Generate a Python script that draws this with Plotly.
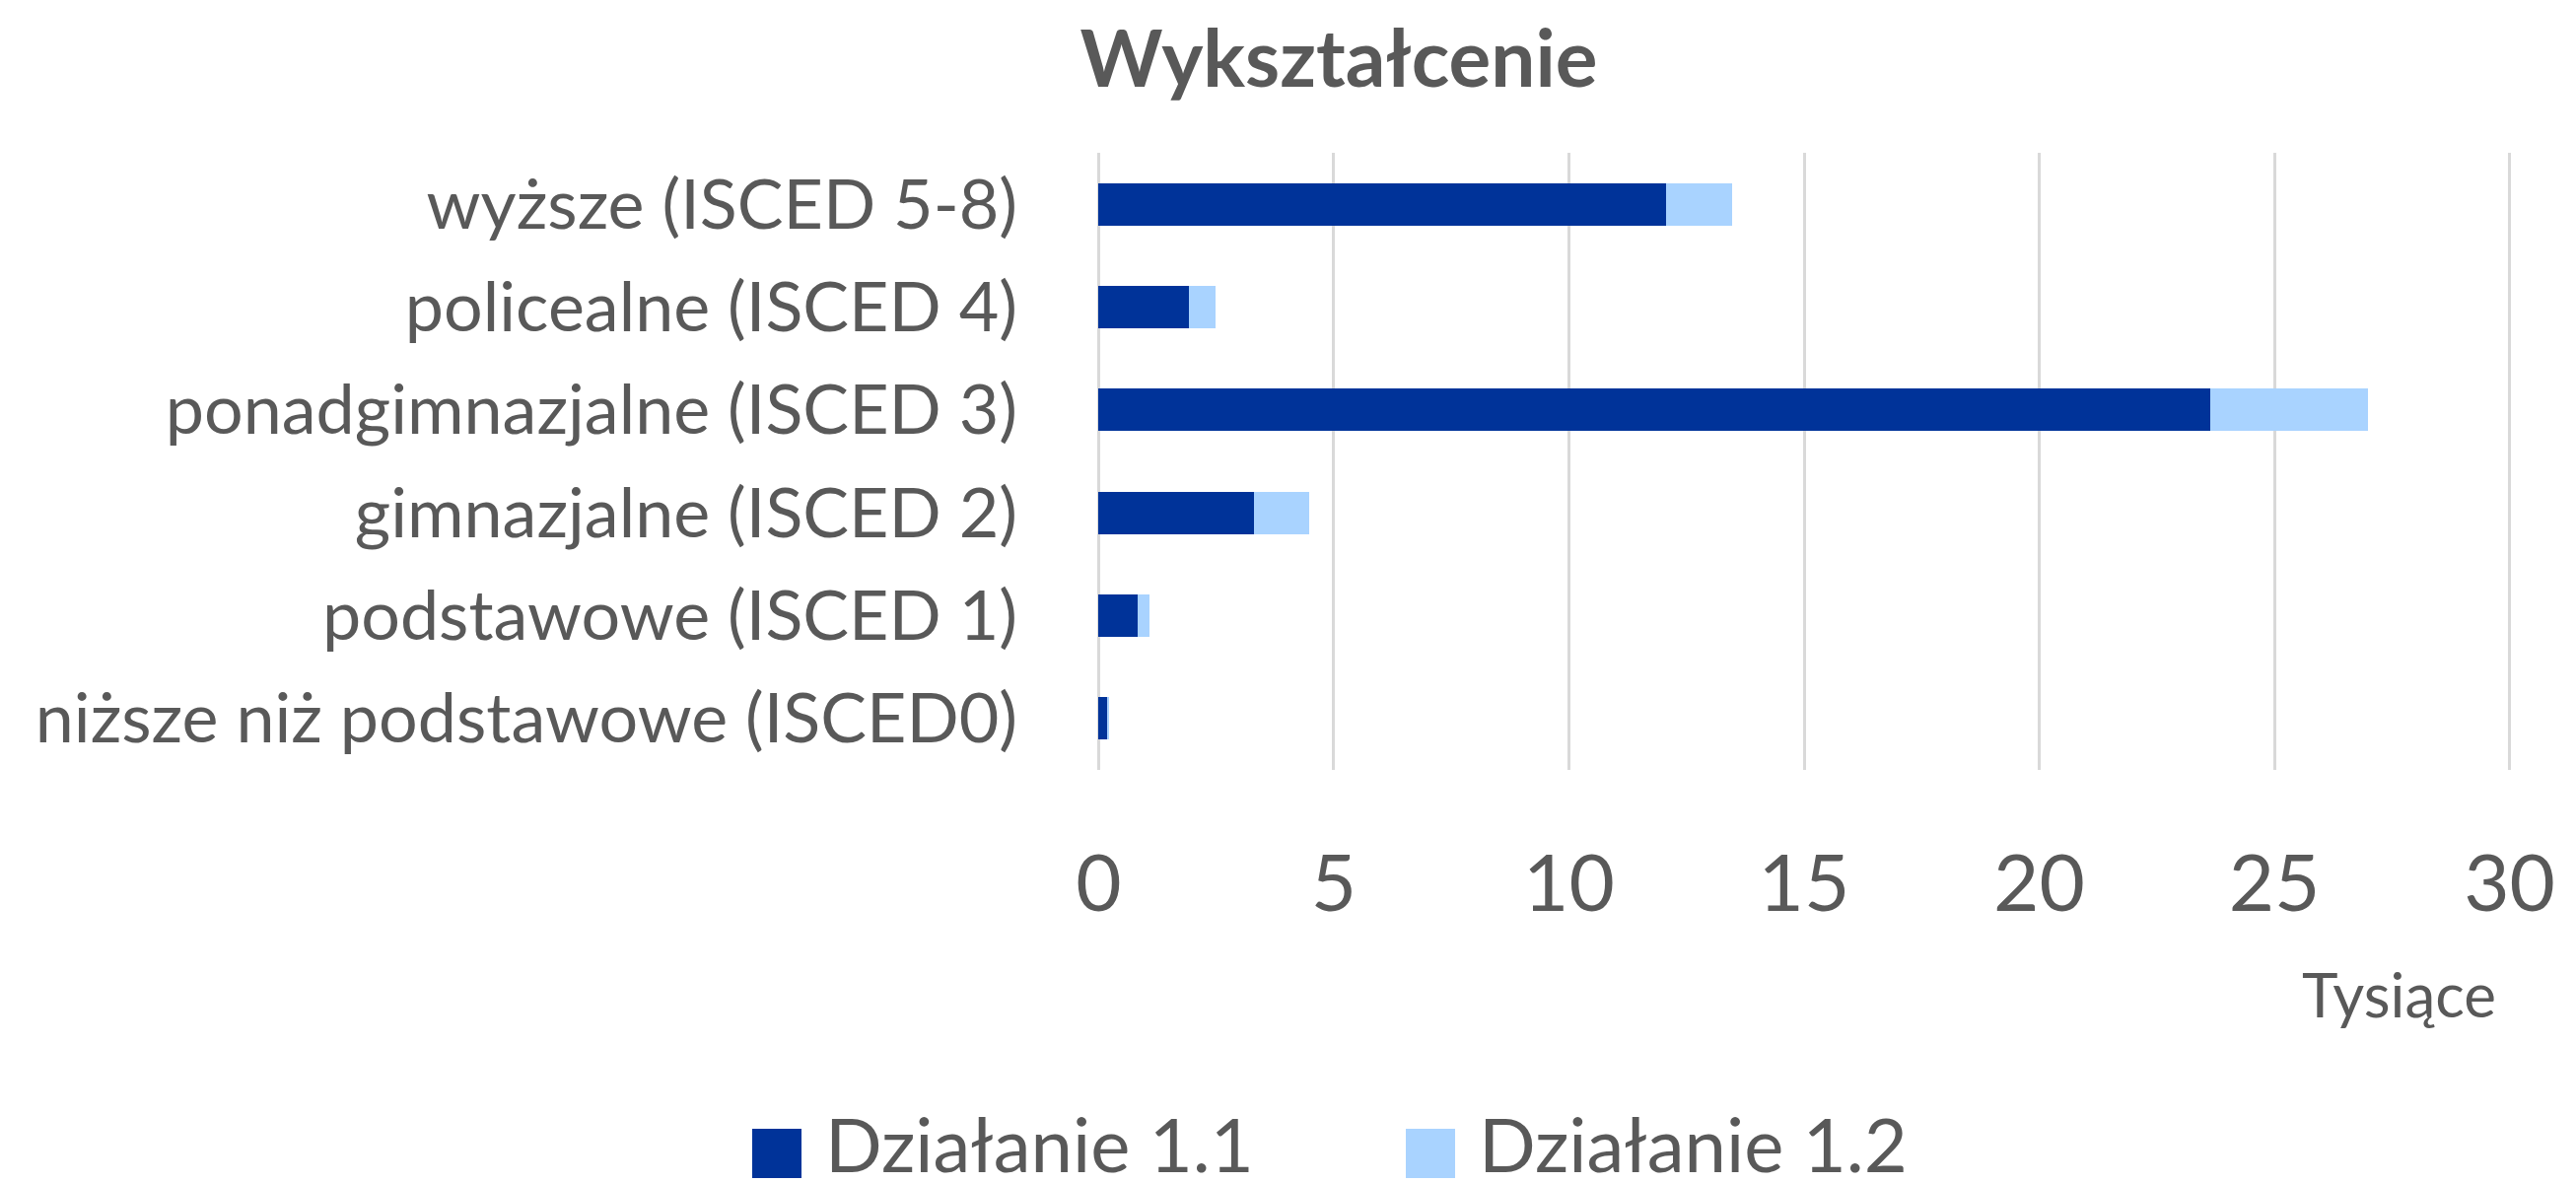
import plotly.graph_objects as go

# Education levels (bottom to top as drawn)
categories = [
    "niższe niż podstawowe (ISCED0)",
    "podstawowe (ISCED 1)",
    "gimnazjalne (ISCED 2)",
    "ponadgimnazjalne (ISCED 3)",
    "policealne (ISCED 4)",
    "wyższe (ISCED 5-8)",
]
series_names = ["Działanie 1.1", "Działanie 1.2"]
# values in thousands
dzialanie_11 = [0.20, 0.82, 3.31, 23.63, 1.91, 12.06]
dzialanie_12 = [0.03, 0.26, 1.16, 3.37, 0.58, 1.40]
x_ticks = [0, 5, 10, 15, 20, 25, 30]

DARK = "#003399"
LIGHT = "#A9D3FF"
GREY = "#595959"
GRID = "#D9D9D9"
FONT = "Lato"

W, H = 2613, 1200
ML, MR, MT, MB = 1105, 74, 147, 427

fig = go.Figure()
for name, vals, col in zip(series_names, [dzialanie_11, dzialanie_12], [DARK, LIGHT]):
    fig.add_trace(go.Bar(
        y=categories, x=vals, name=name, orientation="h",
        marker=dict(color=col, line=dict(width=0)),
        showlegend=False,
    ))

# hand-drawn legend so the swatches can be as large as the reference
pw, ph = W - ML - MR, H - MT - MB
def px_x(px):
    return (px - ML) / pw
def px_y(py):
    return (H - MB - py) / ph

legend_left = [755, 1418]
for name, col, x0 in zip(series_names, [DARK, LIGHT], legend_left):
    fig.add_shape(type="rect", xref="paper", yref="paper",
                  x0=px_x(x0), x1=px_x(x0 + 50), y0=px_y(1187), y1=px_y(1137),
                  fillcolor=col, line_width=0)
    fig.add_annotation(text=name, xref="paper", yref="paper",
                       x=px_x(x0 + 72), y=px_y(1199), xanchor="left", yanchor="bottom",
                       showarrow=False, font=dict(family=FONT, size=76, color=GREY))

fig.add_annotation(text="Tysiące", xref="paper", yref="paper",
                   x=px_x(2425), y=px_y(1000), xanchor="center", yanchor="middle",
                   showarrow=False, font=dict(family=FONT, size=62, color=GREY))

fig.update_layout(
    width=W, height=H,
    barmode="stack", bargap=0.59,
    plot_bgcolor="white", paper_bgcolor="white",
    margin=dict(l=ML, r=MR, t=MT, b=MB, autoexpand=False),
    title=dict(text="<b>Wykształcenie</b>", x=1350 / W, xanchor="center",
               y=1 - 52 / H, yanchor="middle",
               font=dict(family=FONT, size=80, color=GREY)),
    font=dict(family=FONT, color=GREY),
)
fig.update_xaxes(
    range=[-0.03, 30.03], tickvals=x_ticks, showgrid=True, gridcolor=GRID, gridwidth=3,
    zeroline=True, zerolinecolor=GRID, zerolinewidth=3, showline=False, ticks="",
    tickfont=dict(family=FONT, size=80, color=GREY), ticklabelstandoff=62,
    automargin=False,
)
fig.update_yaxes(
    showgrid=False, zeroline=False, showline=False, ticks="",
    tickfont=dict(family=FONT, size=70, color=GREY), ticklabelstandoff=80,
    automargin=False,
)

fig.write_html("out.html")
